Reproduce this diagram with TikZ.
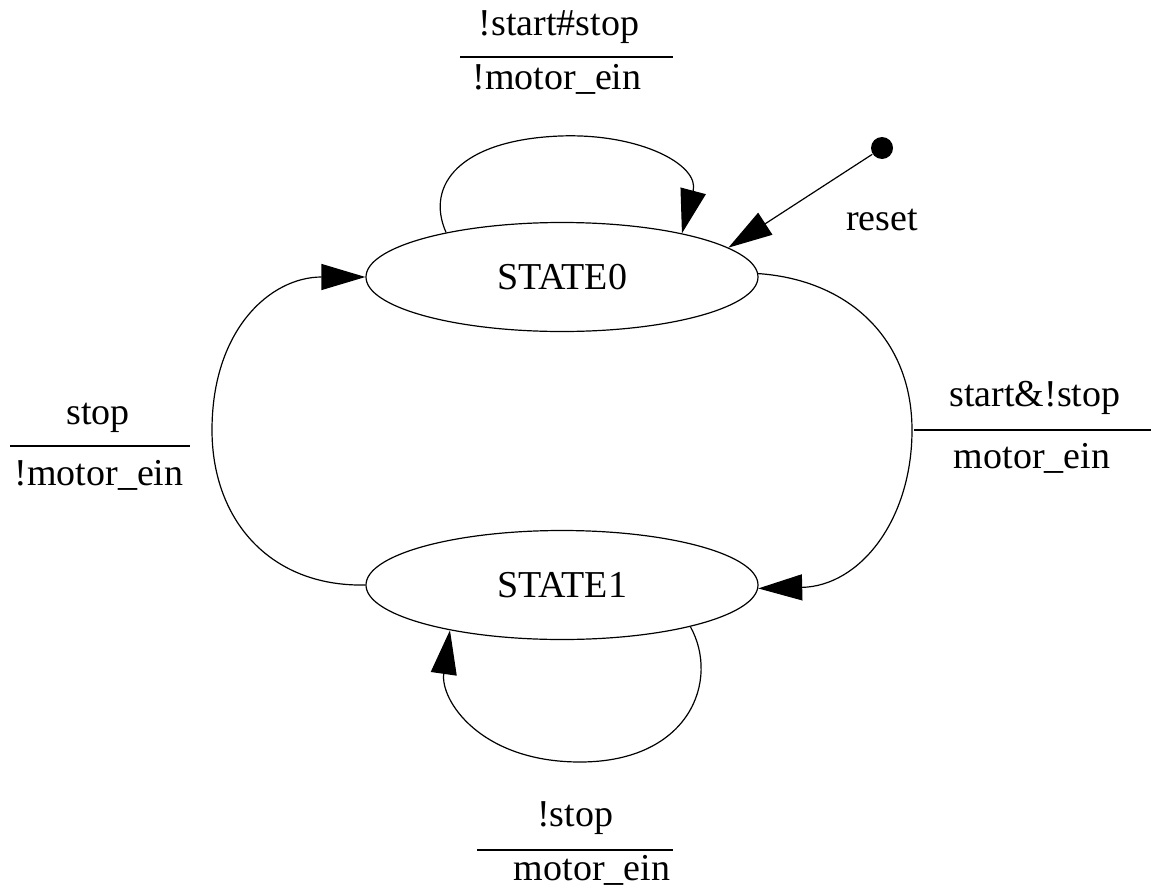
\documentclass[tikz,border=0pt]{standalone}
\usepackage{fontspec}
\setmainfont{Liberation Serif}
\usetikzlibrary{arrows.meta,shapes.geometric}
\begin{document}
\begin{tikzpicture}[x=0.5pt,y=-0.5pt,line width=0.6pt,
  font=\fontsize{19}{23}\selectfont,
  state/.style={ellipse,draw,minimum width=196pt,minimum height=54.5pt,inner sep=0pt},
  lbl/.style={anchor=base,inner sep=0pt},
  trans/.style={-{Triangle[length=22pt,width=13pt]}}]
\useasboundingbox (0,0) rectangle (1151,894);

% states
\node[state] (s0) at (562,277) {STATE0};
\node[state] (s1) at (562,585) {STATE1};

% reset entry
\node[circle,fill,inner sep=0pt,minimum size=11pt] (rst) at (882,148) {};
\node[lbl] (rstlbl) at (882,230) {reset};
\draw[trans] (rst) -- (s0.10.4);

% STATE0 self loop
\draw[trans] (s0.159) .. controls (425,185) and (460,140) .. (560,136)
  .. controls (640,133) and (700,165) .. (s0.20.6);
\node[lbl] (l0a) at (559,35) {!start\#stop};
\draw (460,57) -- (673,57);
\node[lbl] (l0b) at (557,89) {!motor\_ein};

% STATE0 -> STATE1
\draw[trans] (s0.1.5) .. controls (850,280) and (912,340) .. (912,430)
  .. controls (912,520) and (860,586) .. (s1.-1);
\node[lbl] (l1a) at (1035,406) {start\&!stop};
\draw (914,430) -- (1151,430);
\node[lbl] (l1b) at (1032,468) {motor\_ein};

% STATE1 -> STATE0
\draw[trans] (s1.west) .. controls (270,587) and (212,520) .. (212,430)
  .. controls (212,330) and (270,277) .. (s0.west);
\node[lbl] (l2a) at (98,424) {stop};
\draw (10,446) -- (190,446);
\node[lbl] (l2b) at (99,485) {!motor\_ein};

% STATE1 self loop
\draw[trans] (s1.-18.6) .. controls (720,680) and (690,762) .. (580,762)
  .. controls (480,762) and (440,700) .. (s1.202.1);
\node[lbl] (l3a) at (575,826) {!stop};
\draw (477,850) -- (673,850);
\node[lbl] (l3b) at (592,880) {motor\_ein};
\end{tikzpicture}
\end{document}
